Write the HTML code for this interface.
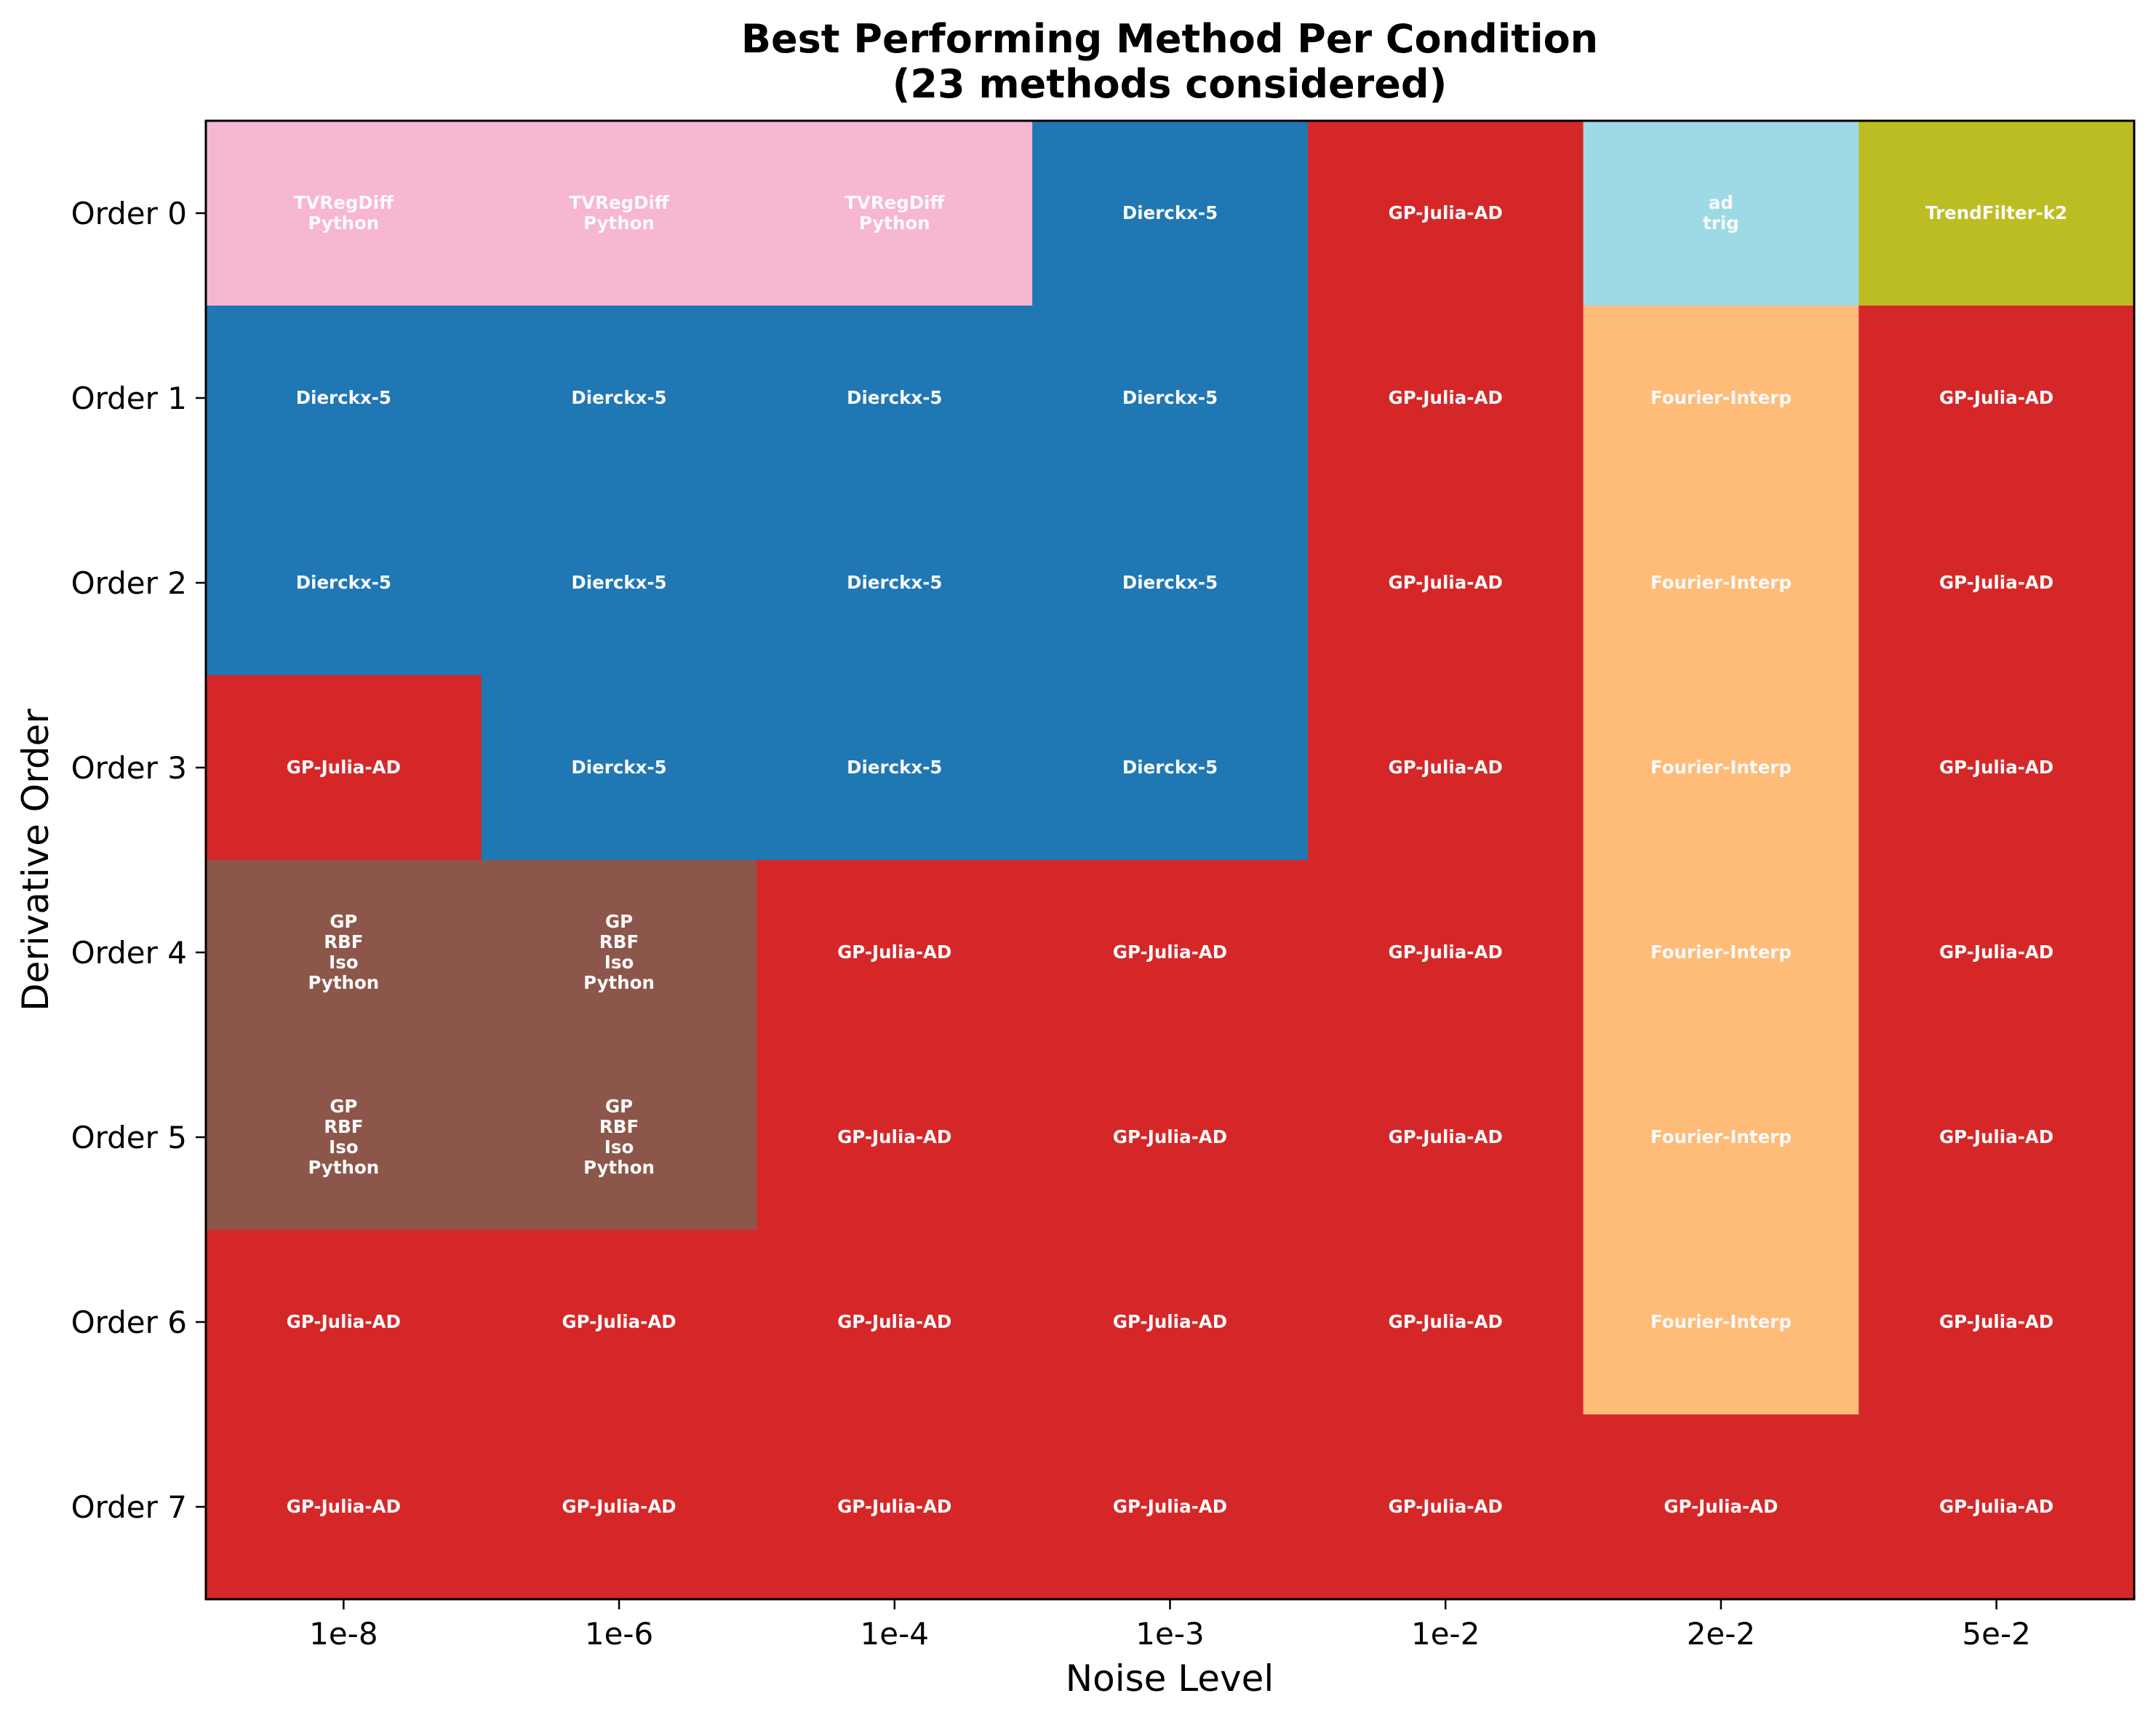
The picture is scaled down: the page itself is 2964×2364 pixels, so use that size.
<!DOCTYPE html>
<html><head><meta charset="utf-8"><style>
html,body{margin:0;padding:0;background:#fff;}
svg{display:block;font-family:"DejaVu Sans","Liberation Sans",sans-serif;}
</style></head><body>
<svg id="chart" width="2964" height="2364" viewBox="0 0 2964 2364" xmlns="http://www.w3.org/2000/svg">
<text x="1608" y="72" text-anchor="middle" font-size="54" font-weight="bold">Best Performing Method Per Condition</text>
<text x="1608" y="134" text-anchor="middle" font-size="54" font-weight="bold">(23 methods considered)</text>
<g id="cells"></g>
<g id="axes"></g>
<text x="1608" y="2324" text-anchor="middle" font-size="50">Noise Level</text>
<text transform="translate(66,1182) rotate(-90)" text-anchor="middle" font-size="50">Derivative Order</text>
</svg>
<script>
const noiseLevels = ["1e-8","1e-6","1e-4","1e-3","1e-2","2e-2","5e-2"];
const orders = ["Order 0","Order 1","Order 2","Order 3","Order 4","Order 5","Order 6","Order 7"];
const methodColors = {"TVRegDiff\nPython":"#f7b6d2","Dierckx-5":"#1f77b4","GP-Julia-AD":"#d62728","ad\ntrig":"#9edae5","TrendFilter-k2":"#bcbd22","Fourier-Interp":"#ffbb78","GP\nRBF\nIso\nPython":"#8c564b"};
const T="TVRegDiff\nPython", D="Dierckx-5", G="GP-Julia-AD", F="Fourier-Interp", R="GP\nRBF\nIso\nPython";
const bestMethod = [
 [T,T,T,D,G,"ad\ntrig","TrendFilter-k2"],
 [D,D,D,D,G,F,G],
 [D,D,D,D,G,F,G],
 [G,D,D,D,G,F,G],
 [R,R,G,G,G,F,G],
 [R,R,G,G,G,F,G],
 [G,G,G,G,G,F,G],
 [G,G,G,G,G,G,G]
];
const L=283,Rr=2934,Tp=166,B=2198;
const cw=(Rr-L)/noiseLevels.length, rh=(B-Tp)/orders.length;
const xPos=i=>L+i*cw, yPos=j=>Tp+j*rh;
const NS="http://www.w3.org/2000/svg";
const cells=document.getElementById('cells'), axes=document.getElementById('axes');
bestMethod.forEach((row,j)=>row.forEach((m,i)=>{
  const r=document.createElementNS(NS,'rect');
  r.setAttribute('x',xPos(i));r.setAttribute('y',yPos(j));
  r.setAttribute('width',cw+0.6);r.setAttribute('height',rh+0.6);
  r.setAttribute('fill',methodColors[m]);
  
  
  cells.appendChild(r);
  const lines=m.split('\n');
  const t=document.createElementNS(NS,'text');
  t.setAttribute('x',xPos(i)+cw/2);
  t.setAttribute('text-anchor','middle');t.setAttribute('font-size','24.5');
  t.setAttribute('font-weight','bold');t.setAttribute('fill','#fafafa');
  
  
  const cy=yPos(j)+rh/2, lh=28, y0=cy-(lines.length-1)*lh/2+8;
  lines.forEach((s,k)=>{const ts=document.createElementNS(NS,'tspan');ts.setAttribute('x',xPos(i)+cw/2);ts.setAttribute('y',y0+k*lh);ts.textContent=s;t.appendChild(ts);});
  cells.appendChild(t);
}));
const fr=document.createElementNS(NS,'rect');
fr.setAttribute('x',L);fr.setAttribute('y',Tp);fr.setAttribute('width',Rr-L);fr.setAttribute('height',B-Tp);
fr.setAttribute('fill','none');fr.setAttribute('stroke','#000');fr.setAttribute('stroke-width','3');


axes.appendChild(fr);
noiseLevels.forEach((n,i)=>{
  const x=xPos(i)+cw/2;
  const l=document.createElementNS(NS,'line');
  l.setAttribute('x1',x);l.setAttribute('x2',x);l.setAttribute('y1',B);l.setAttribute('y2',B+14);
  l.setAttribute('stroke','#000');l.setAttribute('stroke-width','2.5');
  
  
  axes.appendChild(l);
  const t=document.createElementNS(NS,'text');
  t.setAttribute('x',x);t.setAttribute('y',B+62);t.setAttribute('text-anchor','middle');t.setAttribute('font-size','42');
  t.textContent=n;
  
  
  axes.appendChild(t);
});
orders.forEach((o,j)=>{
  const y=yPos(j)+rh/2;
  const l=document.createElementNS(NS,'line');
  l.setAttribute('x1',L-14);l.setAttribute('x2',L);l.setAttribute('y1',y);l.setAttribute('y2',y);
  l.setAttribute('stroke','#000');l.setAttribute('stroke-width','2.5');
  
  
  axes.appendChild(l);
  const t=document.createElementNS(NS,'text');
  t.setAttribute('x',L-26);t.setAttribute('y',y+15);t.setAttribute('text-anchor','end');t.setAttribute('font-size','42');
  t.textContent=o;
  
  
  axes.appendChild(t);
});
</script>
</body></html>
